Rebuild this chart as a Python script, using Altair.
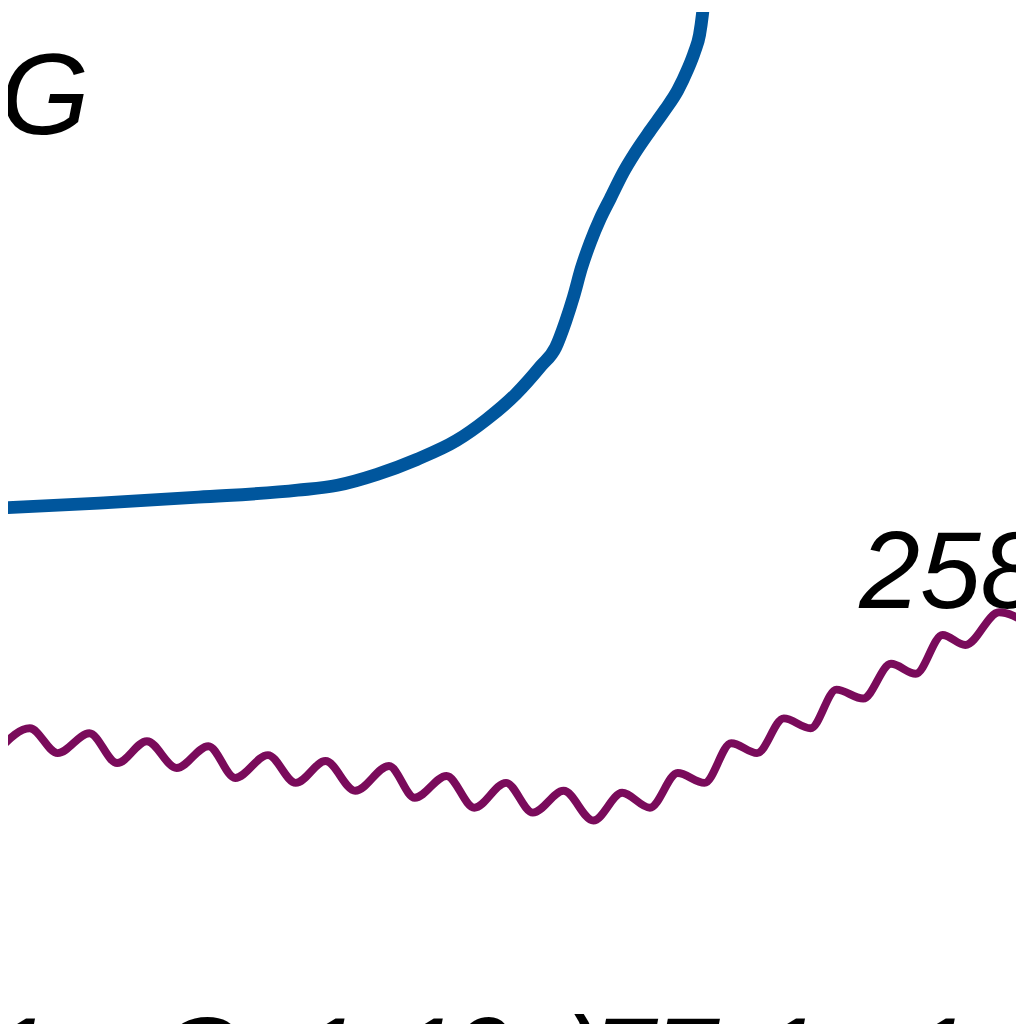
import altair as alt
import pandas as pd

# values (picture pixels, y grows downwards)

# blue curve, labelled G
g_x = [0, 100, 200, 300, 340, 380, 420, 460, 490, 520, 545, 560, 570, 578, 586, 595, 605, 615,
       628, 640, 655, 670, 683, 693, 700, 705, 708, 710]
g_y = [508, 503, 497, 490, 485, 474, 459, 440, 419, 393, 365, 346, 320, 295, 266, 240, 216, 196,
       170, 150, 128, 107, 87, 66, 48, 31, 10, -10]

# wavy purple curve, labelled 258
w_x = [0, 30, 58, 90, 118, 148, 178, 210, 237, 270, 298, 328, 358, 392, 418, 450, 478, 510,
       537, 568, 598, 627, 655, 683, 710, 737, 763, 790, 817, 843, 870, 898, 923, 950, 973, 1007, 1035]
w_y = [750, 730, 755, 735, 765, 743, 770, 748, 780, 757, 785, 763, 793, 768, 800, 778, 810, 785,
       815, 793, 823, 795, 810, 775, 785, 745, 755, 720, 730, 691, 700, 665, 675, 636, 646, 613, 624]

# curve labels
label_text = ["G", "258"]
label_x = [0, 866]
label_y = [131, 609]
label_size = [116, 110]

# the line of text cut off at the bottom edge
bottom_text = ["1", "G", "1", "1", "0", ")", "77", "1", "1"]
bottom_x = [19, 201, 331, 430, 484, 588, 660, 795, 946]
bottom_y = 1100

BLUE = "#00569d"
PURPLE = "#7a0b5b"

x_scale = alt.Scale(domain=[8, 1024])
y_scale = alt.Scale(domain=[8, 1024], reverse=True)

g_df = pd.DataFrame({"x": g_x, "y": g_y})
w_df = pd.DataFrame({"x": w_x, "y": w_y})
lab_df = pd.DataFrame({"x": label_x, "y": label_y, "t": label_text, "s": label_size})
bot_df = pd.DataFrame({"x": bottom_x, "y": [bottom_y] * len(bottom_x), "t": bottom_text})

X = alt.X("x:Q", scale=x_scale, axis=None)
Y = alt.Y("y:Q", scale=y_scale, axis=None)

g_line = alt.Chart(g_df).mark_line(
    color=BLUE, strokeWidth=13, interpolate="monotone", clip=True
).encode(x=X, y=Y, order="x:Q")

w_line = alt.Chart(w_df).mark_line(
    color=PURPLE, strokeWidth=8, interpolate="monotone", clip=True
).encode(x=X, y=Y, order="x:Q")

labels = alt.Chart(lab_df).mark_text(
    align="left", baseline="alphabetic", font="Liberation Sans",
    fontStyle="italic", color="black"
).encode(x=X, y=Y, text="t:N", size=alt.Size("s:Q", scale=None, legend=None))

bottom = alt.Chart(bot_df).mark_text(
    align="center", baseline="alphabetic", font="Liberation Sans",
    fontStyle="italic", fontSize=112, color="black"
).encode(x=X, y=Y, text="t:N")

chart = alt.layer(g_line, w_line, labels, bottom).properties(
    width=1016, height=1016, padding=0, autosize="none", background="white"
).configure_view(stroke=None)

chart.save("out.html", embed_options={"renderer": "svg", "actions": False})
